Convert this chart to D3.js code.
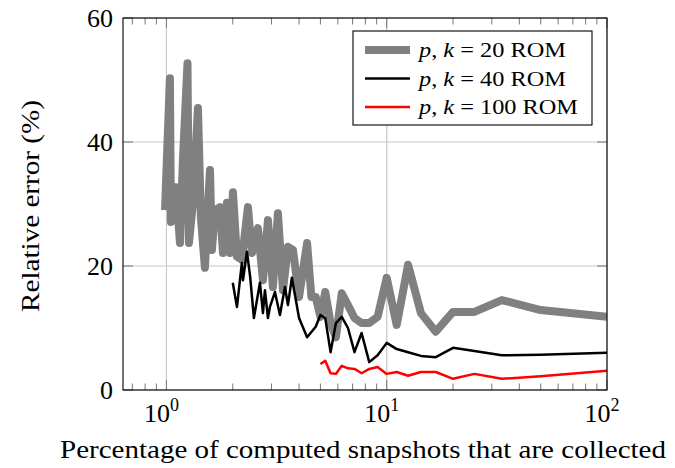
<!DOCTYPE html>
<html>
<head>
<meta charset="utf-8">
<script src="https://cdn.jsdelivr.net/npm/d3@7"></script>
<style>
  html, body { margin: 0; padding: 0; background: #fff; }
  svg { display: block; font-family: "Liberation Serif", "DejaVu Serif", serif; }
</style>
</head>
<body>
<div id="chart"></div>
<script>
// values
const grayX = [0.985, 1.037, 1.048, 1.104, 1.152, 1.188, 1.246, 1.265, 1.319, 1.39, 1.434, 1.495, 1.576, 1.609,
  1.66, 1.75, 1.805, 1.882, 1.942, 2.004, 2.089, 2.2, 2.344, 2.444, 2.602, 2.742, 2.889, 3.044, 3.207, 3.38,
  3.561, 3.752, 4.0, 4.35, 4.55, 4.76, 5.0, 5.26, 5.56, 5.88, 6.25, 6.67, 7.14, 7.69, 8.33, 9.09,
  10, 11.1, 12.5, 14.3, 16.7, 20, 25, 33.3, 50, 100];
const grayY = [29.0, 50.3, 27.1, 32.7, 23.7, 37.1, 52.7, 23.7, 30.2, 45.5, 27.7, 19.7, 35.5, 22.6,
  29.0, 29.5, 22.1, 30.2, 22.1, 31.9, 21.5, 21.0, 29.5, 22.1, 26.1, 17.7, 27.4, 16.6, 28.5, 16.1,
  23.1, 22.6, 15.0, 23.7, 15.0, 15.0, 11.8, 15.8, 10.8, 8.5, 15.6, 13.7, 11.6, 10.8, 10.8, 11.8,
  18.1, 10.5, 20.2, 12.4, 9.4, 12.6, 12.6, 14.5, 12.9, 11.8];

const blackX = [2.0, 2.09, 2.2, 2.225, 2.32, 2.4, 2.495, 2.657, 2.742, 2.8, 2.889, 2.95, 3.108, 3.275,
  3.451, 3.561, 3.71, 4.0, 4.35, 4.76, 5.0, 5.26, 5.56, 5.88, 6.25, 6.67, 7.14, 7.69, 8.33, 9.09,
  10, 11.1, 12.5, 14.3, 16.7, 20, 25, 33.3, 50, 100];
const blackY = [17.3, 13.4, 20.5, 17.7, 22.3, 18.2, 11.6, 17.3, 12.4, 16.1, 11.6, 13.4, 15.8, 12.1,
  16.6, 13.7, 18.1, 11.6, 8.5, 10.2, 12.1, 11.6, 6.1, 10.8, 11.8, 10.0, 6.1, 9.2, 4.5, 5.6,
  7.6, 6.6, 6.1, 5.5, 5.3, 6.8, 6.3, 5.6, 5.7, 6.0];

const redX = [5.0, 5.26, 5.56, 5.88, 6.25, 6.67, 7.14, 7.69, 8.33, 9.09, 10, 11.1, 12.5, 14.3, 16.7,
  20, 25, 33.3, 50, 100];
const redY = [4.2, 4.7, 2.7, 2.6, 3.9, 3.5, 3.4, 2.7, 3.4, 3.7, 2.6, 2.9, 2.3, 2.9, 2.9,
  1.8, 2.6, 1.8, 2.2, 3.1];

const yTicks = [0, 20, 40, 60];
const xMajor = [1, 10, 100];
const xMinor = [0.7, 0.8, 0.9, 2, 3, 4, 5, 6, 7, 8, 9, 20, 30, 40, 50, 60, 70, 80, 90];

const series = [
  { name: "20", xs: grayX, ys: grayY, color: "#808080", width: 8, textLen: 147 },
  { name: "40", xs: blackX, ys: blackY, color: "#000000", width: 2.5, textLen: 147 },
  { name: "100", xs: redX, ys: redY, color: "#ff0000", width: 2.5, textLen: 159 },
];

const width = 675, height = 468;
const margin = { top: 18, right: 68, bottom: 78, left: 123 };
const innerW = width - margin.left - margin.right;
const innerH = height - margin.top - margin.bottom;

const x = d3.scaleLog().domain([0.635, 100]).range([0, innerW]);
const y = d3.scaleLinear().domain([0, 60]).range([innerH, 0]);

const svg = d3.select("#chart").append("svg")
  .attr("width", width).attr("height", height)
  .attr("viewBox", `0 0 ${width} ${height}`);

svg.append("defs").append("clipPath").attr("id", "plot")
  .append("rect").attr("width", innerW).attr("height", innerH);

const root = svg.append("g").attr("transform", `translate(${margin.left},${margin.top})`);

// grid
const grid = root.append("g").attr("stroke", "#c8c8c8").attr("stroke-width", 1.2);
grid.selectAll("line.gx").data(xMajor).join("line").attr("class", "gx")
  .attr("x1", d => x(d)).attr("x2", d => x(d)).attr("y1", 0).attr("y2", innerH);
grid.selectAll("line.gy").data(yTicks).join("line").attr("class", "gy")
  .attr("x1", 0).attr("x2", innerW).attr("y1", d => y(d)).attr("y2", d => y(d));

// series
const line = d3.line().x(d => x(d[0])).y(d => y(d[1]));
root.append("g").attr("clip-path", "url(#plot)")
  .selectAll("path").data(series).join("path")
  .attr("d", s => line(s.xs.map((v, i) => [v, s.ys[i]])))
  .attr("fill", "none")
  .attr("stroke", s => s.color)
  .attr("stroke-width", s => s.width)
  .attr("stroke-linejoin", "round");

// ticks (inside, mirrored)
const ticks = root.append("g").attr("stroke", "#777").attr("stroke-width", 1);
const major = 10, minor = 6.5;
xMajor.forEach(v => {
  ticks.append("line").attr("x1", x(v)).attr("x2", x(v)).attr("y1", innerH).attr("y2", innerH - major);
  ticks.append("line").attr("x1", x(v)).attr("x2", x(v)).attr("y1", 0).attr("y2", major);
});
xMinor.forEach(v => {
  ticks.append("line").attr("x1", x(v)).attr("x2", x(v)).attr("y1", innerH).attr("y2", innerH - minor);
  ticks.append("line").attr("x1", x(v)).attr("x2", x(v)).attr("y1", 0).attr("y2", minor);
});
yTicks.forEach(v => {
  ticks.append("line").attr("x1", 0).attr("x2", major).attr("y1", y(v)).attr("y2", y(v));
  ticks.append("line").attr("x1", innerW).attr("x2", innerW - major).attr("y1", y(v)).attr("y2", y(v));
});

// frame
root.append("rect").attr("width", innerW).attr("height", innerH)
  .attr("fill", "none").attr("stroke", "#000").attr("stroke-width", 1.1);

// tick labels
root.append("g").selectAll("text").data(yTicks).join("text")
  .attr("x", -10).attr("y", d => y(d)).attr("dy", "0.35em")
  .attr("text-anchor", "end").attr("font-size", 26)
  .text(d => d);

const xl = root.append("g").selectAll("text").data(xMajor).join("text")
  .attr("x", d => x(d) - 5).attr("y", innerH + 32)
  .attr("text-anchor", "middle").attr("font-size", 26);
xl.append("tspan").text("10");
xl.append("tspan").attr("dy", -11).attr("font-size", 18).text(d => Math.round(Math.log10(d)));

// axis labels
svg.append("text")
  .attr("x", 363).attr("y", 458)
  .attr("text-anchor", "middle").attr("font-size", 26)
  .attr("textLength", 606).attr("lengthAdjust", "spacingAndGlyphs")
  .text("Percentage of computed snapshots that are collected");

svg.append("text")
  .attr("transform", "translate(39,206) rotate(-90)")
  .attr("text-anchor", "middle").attr("font-size", 26)
  .attr("textLength", 212).attr("lengthAdjust", "spacingAndGlyphs")
  .text("Relative error (%)");

// legend
const legend = svg.append("g").attr("transform", "translate(353,31)");
legend.append("rect").attr("width", 239).attr("height", 94)
  .attr("fill", "#fff").attr("stroke", "#000").attr("stroke-width", 1.1);
const rows = legend.selectAll("g").data(series).join("g")
  .attr("transform", (d, i) => `translate(0,${19 + i * 28.5})`);
rows.append("line").attr("x1", 12).attr("x2", 57)
  .attr("stroke", d => d.color).attr("stroke-width", d => d.width);
const lt = rows.append("text").attr("x", 66).attr("dy", "0.35em").attr("font-size", 21)
  .attr("textLength", d => d.textLen).attr("lengthAdjust", "spacingAndGlyphs");
lt.append("tspan").attr("font-style", "italic").text("p");
lt.append("tspan").text(", ");
lt.append("tspan").attr("font-style", "italic").text("k");
lt.append("tspan").text(d => ` = ${d.name} ROM`);
</script>
</body>
</html>
